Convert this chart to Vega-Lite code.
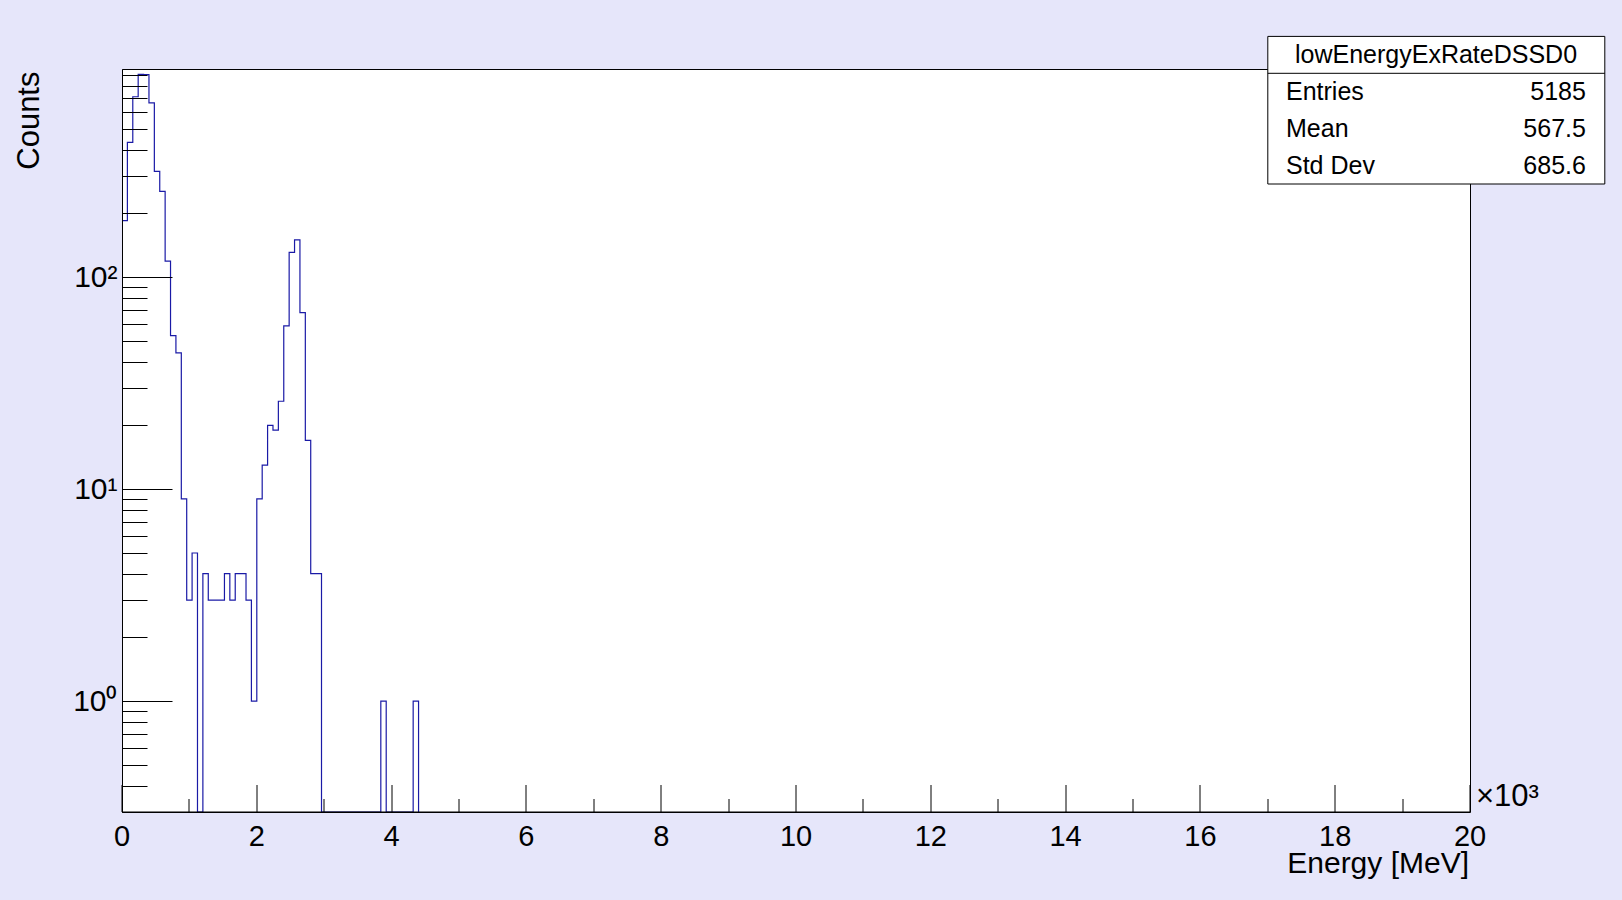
{
  "$schema": "https://vega.github.io/schema/vega-lite/v6.json",
  "width": 1348,
  "height": 743,
  "autosize": {"type": "none"},
  "padding": {"left": 122, "top": 69, "right": 152, "bottom": 88},
  "background": "#e6e6fa",
  "datasets": {
    "hist": [
      {"E": 0, "counts": 185},
      {"E": 80, "counts": 433},
      {"E": 160, "counts": 710},
      {"E": 240, "counts": 906},
      {"E": 320, "counts": 904},
      {"E": 400, "counts": 664},
      {"E": 480, "counts": 316},
      {"E": 560, "counts": 254},
      {"E": 640, "counts": 119},
      {"E": 720, "counts": 53},
      {"E": 800, "counts": 44},
      {"E": 880, "counts": 9},
      {"E": 960, "counts": 3},
      {"E": 1040, "counts": 5},
      {"E": 1120, "counts": 0},
      {"E": 1200, "counts": 4},
      {"E": 1280, "counts": 3},
      {"E": 1360, "counts": 3},
      {"E": 1440, "counts": 3},
      {"E": 1520, "counts": 4},
      {"E": 1600, "counts": 3},
      {"E": 1680, "counts": 4},
      {"E": 1760, "counts": 4},
      {"E": 1840, "counts": 3},
      {"E": 1920, "counts": 1},
      {"E": 2000, "counts": 9},
      {"E": 2080, "counts": 13},
      {"E": 2160, "counts": 20},
      {"E": 2240, "counts": 19},
      {"E": 2320, "counts": 26},
      {"E": 2400, "counts": 59},
      {"E": 2480, "counts": 131},
      {"E": 2560, "counts": 150},
      {"E": 2640, "counts": 68},
      {"E": 2720, "counts": 17},
      {"E": 2800, "counts": 4},
      {"E": 2880, "counts": 4},
      {"E": 2960, "counts": 0},
      {"E": 3040, "counts": 0},
      {"E": 3120, "counts": 0},
      {"E": 3200, "counts": 0},
      {"E": 3280, "counts": 0},
      {"E": 3360, "counts": 0},
      {"E": 3440, "counts": 0},
      {"E": 3520, "counts": 0},
      {"E": 3600, "counts": 0},
      {"E": 3680, "counts": 0},
      {"E": 3760, "counts": 0},
      {"E": 3840, "counts": 1},
      {"E": 3920, "counts": 0},
      {"E": 4000, "counts": 0},
      {"E": 4080, "counts": 0},
      {"E": 4160, "counts": 0},
      {"E": 4240, "counts": 0},
      {"E": 4320, "counts": 1},
      {"E": 4400, "counts": 0}
    ],
    "stats": [
      {"stat": "Entries", "value": "5185"},
      {"stat": "Mean", "value": "567.5"},
      {"stat": "Std Dev", "value": "685.6"}
    ]
  },
  "layer": [
    {
      "data": {"name": "hist"},
      "layer": [
        {
          "mark": {"type": "line", "interpolate": "step-after", "color": "#1a1aa6", "strokeWidth": 1.2, "invalid": "show", "clip": true},
          "encoding": {
            "x": {
              "field": "E",
              "type": "quantitative",
              "scale": {"domain": [0, 20000], "nice": false, "zero": false},
              "axis": {
                "values": [0, 500, 1000, 1500, 2000, 2500, 3000, 3500, 4000, 4500, 5000, 5500, 6000, 6500, 7000, 7500, 8000, 8500, 9000, 9500, 10000, 10500, 11000, 11500, 12000, 12500, 13000, 13500, 14000, 14500, 15000, 15500, 16000, 16500, 17000, 17500, 18000, 18500, 19000, 19500, 20000],
                "labelExpr": "datum.value % 2000 === 0 ? format(datum.value / 1000, 'd') : ''",
                "tickSize": {"condition": {"test": "datum.value % 2000 === 0", "value": -27}, "value": -13},
                "tickColor": "black",
                "domainColor": "black",
                "domainWidth": 1.2,
                "labelColor": "black",
                "labelFontSize": 29,
                "labelPadding": 38,
                "labelBaseline": "top",
                "labelFlush": false,
                "labelOverlap": false,
                "grid": false,
                "translate": 0,
                "zindex": 1,
                "title": "Energy [MeV]",
                "titleFontSize": 30,
                "titleFontWeight": "normal",
                "titleColor": "black",
                "titleX": 1347,
                "titleY": 61,
                "titleAlign": "right",
                "titleBaseline": "alphabetic"
              }
            },
            "y": {
              "field": "counts",
              "type": "quantitative",
              "scale": {"type": "log", "domain": [0.3, 960], "clamp": true, "nice": false},
              "axis": {
                "values": [0.3, 0.4, 0.5, 0.6, 0.7, 0.8, 0.9, 1, 2, 3, 4, 5, 6, 7, 8, 9, 10, 20, 30, 40, 50, 60, 70, 80, 90, 100, 200, 300, 400, 500, 600, 700, 800, 900],
                "labelExpr": "datum.value === 1 ? '10⁰' : datum.value === 10 ? '10¹' : datum.value === 100 ? '10²' : ''",
                "tickSize": {"condition": {"test": "datum.value === 1 || datum.value === 10 || datum.value === 100", "value": -50}, "value": -25},
                "tickColor": "black",
                "domainColor": "black",
                "labelColor": "black",
                "labelFontSize": 30,
                "labelPadding": 55,
                "labelBaseline": "middle",
                "labelFlush": false,
                "labelOverlap": false,
                "grid": false,
                "zindex": 1,
                "title": "Counts",
                "titleFontSize": 31,
                "titleFontWeight": "normal",
                "titleColor": "black",
                "titleAngle": 270,
                "titleX": -84,
                "titleY": 2,
                "titleAlign": "right",
                "titleBaseline": "alphabetic"
              }
            }
          }
        },
        {
          "data": {"values": [{}]},
          "mark": {"type": "text", "text": "×10³", "align": "left", "baseline": "alphabetic", "dx": 6, "dy": -6, "fontSize": 31, "color": "black"},
          "encoding": {"x": {"datum": 20000}, "y": {"datum": 0.3}}
        }
      ]
    },
    {
      "data": {"name": "stats"},
      "encoding": {
        "y": {
          "field": "stat",
          "type": "nominal",
          "scale": {"type": "point", "domain": ["top", "header", "sep", "Entries", "m1", "Mean", "m2", "Std Dev", "bottom"], "range": [-32.6, 115], "padding": 0},
          "axis": null
        }
      },
      "layer": [
        {
          "data": {"values": [{}]},
          "mark": {"type": "rect", "fill": "white", "stroke": "black", "strokeWidth": 1},
          "encoding": {"x": {"datum": 17000}, "x2": {"datum": 22000}, "y": {"datum": "top"}, "y2": {"datum": "bottom"}}
        },
        {
          "data": {"values": [{}]},
          "mark": {"type": "rule", "color": "black", "strokeWidth": 1},
          "encoding": {"x": {"datum": 17000}, "x2": {"datum": 22000}, "y": {"datum": "sep"}}
        },
        {
          "data": {"values": [{}]},
          "mark": {"type": "text", "text": "lowEnergyExRateDSSD0", "align": "center", "baseline": "middle", "fontSize": 25, "color": "black"},
          "encoding": {"x": {"datum": 19496}, "y": {"datum": "header"}}
        },
        {
          "mark": {"type": "text", "align": "left", "baseline": "middle", "fontSize": 25, "color": "black"},
          "encoding": {"x": {"datum": 17270}, "text": {"field": "stat"}}
        },
        {
          "mark": {"type": "text", "align": "right", "baseline": "middle", "fontSize": 25, "color": "black"},
          "encoding": {"x": {"datum": 21720}, "text": {"field": "value"}}
        }
      ]
    }
  ],
  "resolve": {"scale": {"y": "independent"}},
  "config": {
    "font": "Liberation Sans",
    "view": {"fill": "white", "stroke": "black", "strokeWidth": 1}
  }
}
